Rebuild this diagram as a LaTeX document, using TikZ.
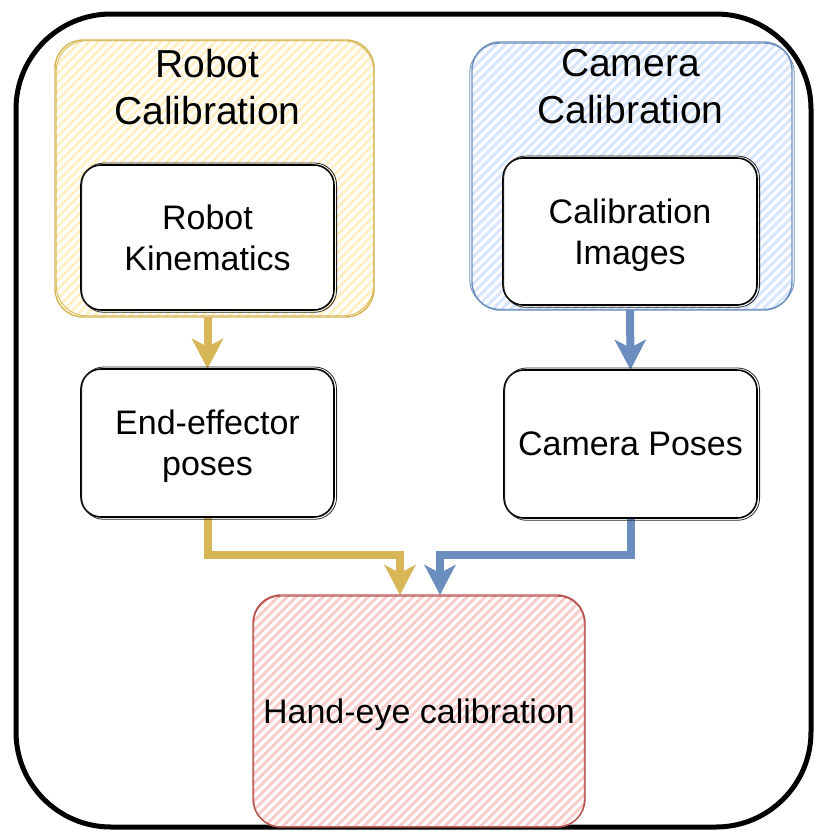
\documentclass[tikz,border=0pt]{standalone}
\usepackage{fontspec}
\setmainfont{Liberation Sans}
\usetikzlibrary{arrows.meta}

\definecolor{ystroke}{HTML}{D6B656}
\definecolor{yfill}{HTML}{FFF0C8}
\definecolor{bstroke}{HTML}{6C8EBF}
\definecolor{bfill}{HTML}{D8E6FB}
\definecolor{rstroke}{HTML}{B85450}
\definecolor{rfill}{HTML}{F8CECC}

\tikzset{
  frame/.style={draw=black, line width=5pt, rounded corners=95pt},
  group/.style={rectangle, rounded corners=28pt, line width=1.4pt},
  stepbox/.style={rectangle, draw=black, line width=1.6pt, rounded corners=20pt,
    fill=white, align=center, font=\fontsize{34}{41}\selectfont,
    inner sep=0pt, text depth=0pt},
  title/.style={align=center, font=\fontsize{39}{47}\selectfont, inner sep=0pt},
  sketch/.style={line width=0.8pt, rounded corners=#1},
  flow/.style={line width=8pt, -{Stealth[length=30pt,width=31pt,inset=8pt]}},
}

% diagonal hachure inside a rounded box: left, top, right, bottom, radius, colour
\newcommand{\drawhatch}[6]{%
  \begin{scope}
    \clip[rounded corners=#5] (#1,#2) rectangle (#3,#4);
    \fill[white] (#1,#2) rectangle (#3,#4);
    \pgfmathsetmacro{\hh}{#4-#2}
    \pgfmathtruncatemacro{\nn}{(#3-#1+\hh)/9+1}
    \foreach \k in {0,...,\nn}
      \draw[#6, line width=3pt] ({#1-\hh+9*\k},#4) -- ++(\hh,-\hh);
  \end{scope}}

\begin{document}
\begin{tikzpicture}[x=1pt,y=-1pt]
\useasboundingbox (0,0) rectangle (814,831);

% outer frame
\draw[frame] (16,14) rectangle (811,827);

% anchor points for the two converging arrows
\coordinate (ya) at (400,595);
\coordinate (ba) at (440,595);
\coordinate (yk) at (400,555);
\coordinate (bk) at (440,555);

% step positions, placed first so connectors can refer to them
\path
  node[minimum width=253pt, minimum height=145pt] (rkpos) at (207.5,237.5) {}
  node[minimum width=254pt, minimum height=147pt] (cipos) at (630,231.5) {}
  node[minimum width=253pt, minimum height=148pt] (eepos) at (207.5,443) {}
  node[minimum width=253pt, minimum height=148pt] (cppos) at (630.5,444) {};

% connectors
\draw[flow, ystroke] (rkpos.south) -- (eepos.north);
\draw[flow, bstroke] (cipos.south) -- (cppos.north);
\draw[flow, ystroke] (eepos.south) |- (yk) -- (ya);
\draw[flow, bstroke] (cppos.south) |- (bk) -- (ba);

% group containers
\drawhatch{55}{40}{374}{317}{28pt}{yfill}
\node[group, draw=ystroke, minimum width=319pt, minimum height=277pt]
  (robotgrp) at (214.5,178.5) {};
\draw[ystroke, sketch=30pt] ([shift={(2,1.5)}]robotgrp.north west) rectangle ([shift={(-1,-2)}]robotgrp.south east);
\node[title] (robottitle) at (207.5,87) {Robot\\Calibration};

\drawhatch{472}{42}{792}{310}{28pt}{bfill}
\node[group, draw=bstroke, minimum width=320pt, minimum height=268pt]
  (camgrp) at (632,176) {};
\draw[bstroke, sketch=30pt] ([shift={(-1.5,2)}]camgrp.north west) rectangle ([shift={(1.5,-1.5)}]camgrp.south east);
\node[title] (camtitle) at (630.5,87) {Camera\\Calibration};

% result container
\drawhatch{253}{595}{585}{827}{26pt}{rfill}
\node[group, draw=rstroke, minimum width=332pt, minimum height=232pt,
  align=center, text depth=0pt, font=\fontsize{34}{41}\selectfont] (handeye) at (419,711) {Hand-eye calibration};
\draw[rstroke, sketch=26pt] ([shift={(1.5,2)}]handeye.north west) rectangle ([shift={(-1.5,-1)}]handeye.south east);

% process steps
\node[stepbox, minimum width=253pt, minimum height=145pt] (rk) at (rkpos) {Robot\\Kinematics};
\node[stepbox, minimum width=254pt, minimum height=147pt] (ci) at (cipos) {Calibration\\Images};
\node[stepbox, minimum width=253pt, minimum height=148pt] (ee) at (eepos) {End-effector\\poses};
\node[stepbox, minimum width=253pt, minimum height=148pt] (cp) at (cppos) {Camera Poses};

% second pencil stroke on each step box
\foreach \n in {rk,ci,ee,cp}
  \draw[black!85, sketch=22pt] ([shift={(1.5,-1.2)}]\n.north west) rectangle ([shift={(1.8,1.5)}]\n.south east);

\end{tikzpicture}
\end{document}
